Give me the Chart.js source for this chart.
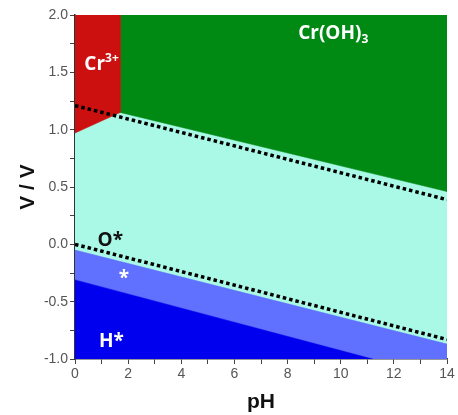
<!DOCTYPE html><html><head><script src="https://cdn.jsdelivr.net/npm/chart.js"></script>
<style>body{margin:0;background:#fff}#w{width:458px;height:415px}</style></head><body><div id="w"><canvas id="c"></canvas></div>
<script>
const xTicks=[0,2,4,6,8,10,12,14];
const yTicks=[-1.0,-0.5,0.0,0.5,1.0,1.5,2.0];
const cyanRegion=[[0,2],[14,2],[14,-1],[0,-1]];
const redRegion=[[0,0.97],[0,2],[1.7,2],[1.7,1.15]];
const greenRegion=[[1.7,2],[14,2],[14,0.46],[1.7,1.15]];
const lightBlueRegion=[[0,-0.05],[14,-0.87],[14,-1],[0,-1]];
const darkBlueRegion=[[0,-0.31],[11.2,-1],[0,-1]];
const oxygenLine=[[0,1.21],[14,0.39]];
const hydrogenLine=[[0,0.0],[14,-0.83]];
const labels=[{t:'Cr',sup:'3+',x:0.35,y:1.57,c:'#fff'},{t:'Cr(OH)',sub:'3',x:8.4,y:1.84,c:'#fff'},{t:'O*',x:0.85,y:0.03,c:'#111'},{t:'*',x:1.65,y:-0.3,c:'#fff'},{t:'H*',x:0.9,y:-0.85,c:'#fff'}];
const pts=a=>a.map(p=>({x:p[0],y:p[1]}));
const poly=(a,col)=>({data:pts(a.concat([a[0]])),showLine:true,fill:'shape',backgroundColor:col,borderColor:col,borderWidth:0.5,pointRadius:0});
const dot=a=>({data:pts(a),showLine:true,fill:false,borderColor:'#000',borderWidth:3.5,borderDash:[3.5,3],pointRadius:0});
const txt={id:'txt',afterDatasetsDraw(ch){const c=ch.ctx,xs=ch.scales.x,ys=ch.scales.y;c.save();c.textBaseline='middle';
for(const l of labels){c.font='bold 19px "Open Sans", Arial';c.fillStyle=l.c;let X=xs.getPixelForValue(l.x),Y=ys.getPixelForValue(l.y);c.fillText(l.t,X,Y);let w=c.measureText(l.t).width;
if(l.sup){c.font='bold 12px "Open Sans", Arial';c.fillText(l.sup,X+w,Y-6);}if(l.sub){c.font='bold 12px "Open Sans", Arial';c.fillText(l.sub,X+w,Y+6);}}c.restore();}};
const ds=[poly(cyanRegion,'#aaf8e6'),poly(greenRegion,'#008a14'),poly(redRegion,'#cc1010'),poly(lightBlueRegion,'#6070ff'),poly(darkBlueRegion,'#0000ee'),dot(oxygenLine),dot(hydrogenLine)];
ds.forEach((d,i)=>d.order=ds.length-i);
new Chart(document.getElementById('c'),{type:'scatter',data:{datasets:ds},
options:{responsive:true,maintainAspectRatio:false,animation:false,layout:{padding:{left:16,right:11,top:15,bottom:0}},plugins:{legend:{display:false},tooltip:{enabled:false}},
scales:{x:{type:'linear',min:0,max:14,afterBuildTicks:s=>{s.ticks=[];for(let v=0;v<=14;v++)s.ticks.push({value:v});},afterFit:s=>{s.height=56;},
ticks:{color:'#555',font:{size:14,family:'Arial'},padding:2,maxRotation:0,autoSkip:false,callback:v=>xTicks.includes(v)?String(v):''},grid:{drawOnChartArea:false,tickLength:5,color:'#444'},border:{color:'#333',width:1.5},
title:{display:true,text:'pH',color:'#111',font:{size:21,weight:'bold',family:'Arial'},padding:0}},
y:{min:-1,max:2,afterBuildTicks:s=>{s.ticks=[];for(let v=-1;v<=2.001;v+=0.25)s.ticks.push({value:Math.round(v*100)/100});},afterFit:s=>{s.width=59;},
ticks:{color:'#555',font:{size:14,family:'Arial'},padding:2,autoSkip:false,callback:v=>yTicks.includes(v)?v.toFixed(1):''},grid:{drawOnChartArea:false,tickLength:5,color:'#444'},border:{color:'#333',width:1.5},
title:{display:true,text:'V / V',color:'#111',font:{size:21,weight:'bold',family:'Arial'},padding:0}}}},plugins:[txt]});
</script></body></html>
